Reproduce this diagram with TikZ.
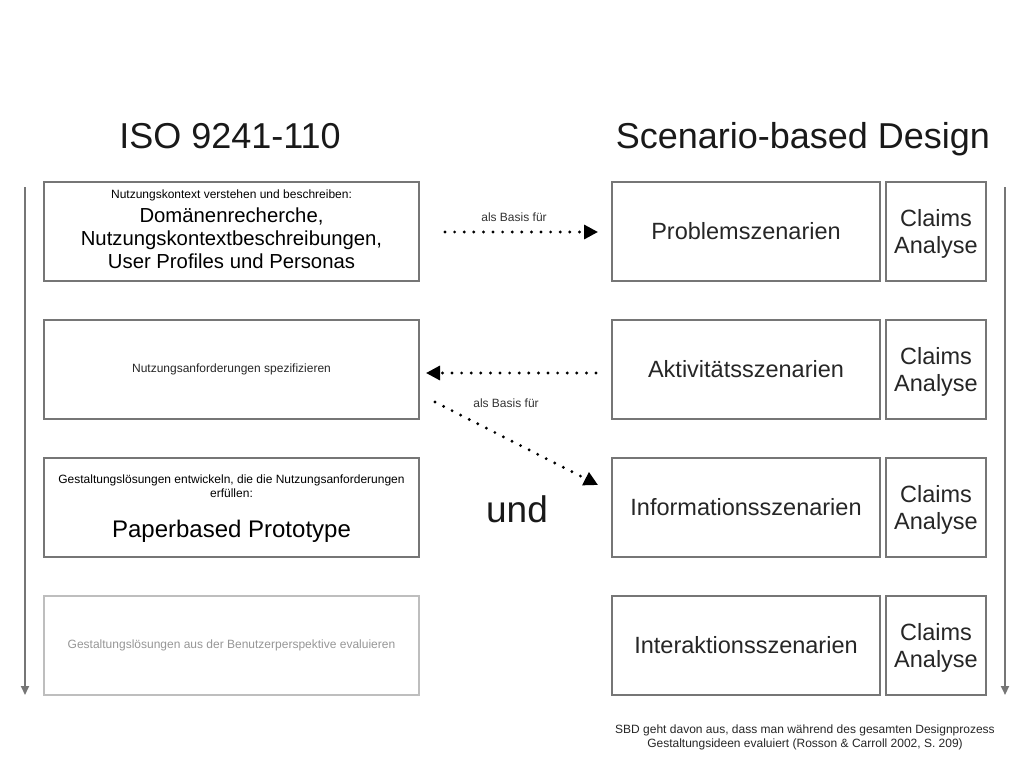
\documentclass[tikz,border=0pt]{standalone}
\usepackage{fontspec}
\setmainfont{Liberation Sans}
\usetikzlibrary{arrows.meta}
\definecolor{frame}{RGB}{118,118,118}
\definecolor{faded}{RGB}{190,190,190}
\definecolor{fadedtext}{RGB}{150,150,150}
\begin{document}
\begin{tikzpicture}[x=1pt,y=-1pt,
  box/.style={draw=frame,line width=2pt,inner sep=2pt,align=center,text=black!85},
  leftbox/.style={box,minimum width=375pt,minimum height=99pt},
  scenbox/.style={box,minimum width=268pt,minimum height=99pt,font=\fontsize{23.5}{25}\selectfont},
  claimbox/.style={box,minimum width=100pt,minimum height=99pt,text depth=0pt,
    font=\fontsize{23.5}{27}\selectfont},
  small/.style={font=\fontsize{12}{14}\selectfont},
  flow/.style={draw=frame,line width=2pt,-{Triangle[length=9pt,width=8pt]}},
  dots/.style={line width=3.2pt,line cap=round,dash pattern=on 0pt off 9.6pt,
    -{Triangle[length=14pt,width=14pt]}},
  title/.style={font=\fontsize{36}{40}\selectfont,text=black!90,anchor=base}]
\useasboundingbox (0,0) rectangle (1024,768);

% headings
\node[title] (iso) at (230,148) {ISO 9241-110};
\node[title] (sbd) at (803,148) {Scenario-based Design};

% ISO process steps (multi-line texts are placed by the baseline of their last line)
\node[leftbox] (l1) at (231.5,231.5) {};
\node[small,anchor=base] (l1a) at (231.5,198) {Nutzungskontext verstehen und beschreiben:};
\node[font=\fontsize{20.3}{23}\selectfont,align=center,anchor=base] (l1b) at (231.5,268)
  {Domänenrecherche,\\Nutzungskontextbeschreibungen,\\User Profiles und Personas};
\node[leftbox,small] (l2) at (231.5,369.5) {Nutzungsanforderungen spezifizieren};
\node[leftbox] (l3) at (231.5,507.5) {};
\node[small,align=center,anchor=base] (l3a) at (231.5,497)
  {Gestaltungslösungen entwickeln, die die Nutzungsanforderungen\\erfüllen:};
\node[font=\fontsize{24}{28}\selectfont,anchor=base] (l3b) at (231.5,537) {Paperbased Prototype};
\node[leftbox,draw=faded,small,text=fadedtext] (l4) at (231.5,645.5)
  {Gestaltungslösungen aus der Benutzerperspektive evaluieren};

% scenario stages with claims analysis
\node[scenbox] (s1) at (746,231.5) {Problemszenarien};
\node[scenbox] (s2) at (746,369.5) {Aktivitätsszenarien};
\node[scenbox] (s3) at (746,507.5) {Informationsszenarien};
\node[scenbox] (s4) at (746,645.5) {Interaktionsszenarien};
\foreach \i/\y in {1/231.5,2/369.5,3/507.5,4/645.5}
  \node[claimbox] (c\i) at (936,\y) {Claims\\Analyse};

% process direction
\coordinate (lt) at (25,187);
\coordinate (lb) at (25,695);
\coordinate (rt) at (1005,187);
\coordinate (rb) at (1005,695);
\draw[flow] (lt) -- (lb);
\draw[flow] (rt) -- (rb);

% relations
\coordinate (a1s) at (445,232);
\coordinate (a1e) at (598,232);
\coordinate (a2s) at (596,373);
\coordinate (a2e) at (426,373);
\coordinate (a3s) at (435,402);
\coordinate (a3e) at (598,485);
\draw[dots] (a1s) -- (a1e);
\draw[dots] (a2s) -- (a2e);
\draw[dots] (a3s) -- (a3e);
\node[small,text=black!80] (b1) at (514,217) {als Basis für};
\node[small,text=black!80] (b2) at (506,403) {als Basis für};
\node[font=\fontsize{37}{40}\selectfont,text=black!90] (und) at (517,509) {und};

% note
\node[align=center,text=black!85,font=\fontsize{12}{14}\selectfont,anchor=base] (note) at (805,747)
  {SBD geht davon aus, dass man während des gesamten Designprozess\\Gestaltungsideen evaluiert (Rosson \& Carroll 2002, S. 209)};
\end{tikzpicture}
\end{document}
